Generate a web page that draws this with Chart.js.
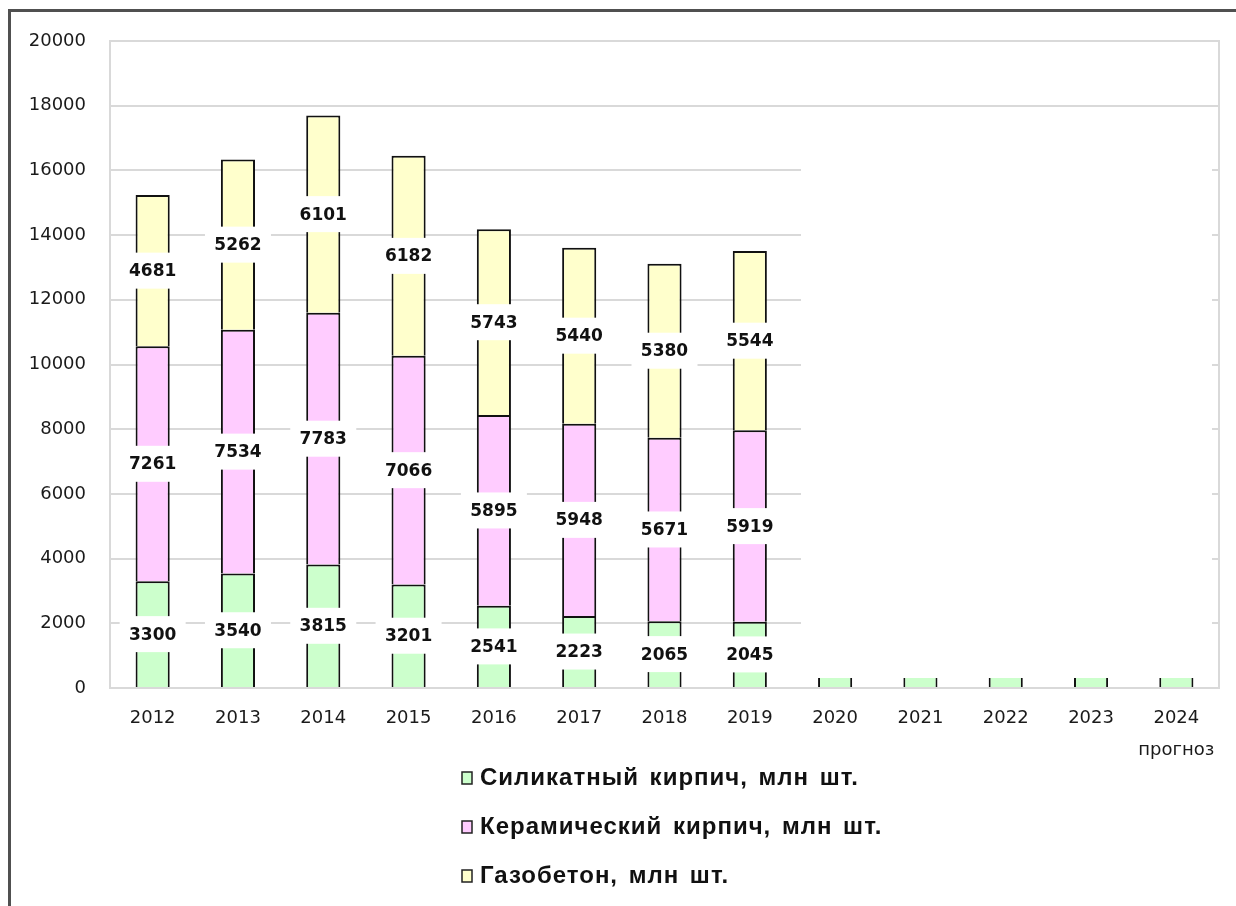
<!DOCTYPE html>
<html>
<head>
<meta charset="utf-8">
<script src="https://cdn.jsdelivr.net/npm/chart.js@4.4.0/dist/chart.umd.min.js"></script>
<style>
  html, body { margin: 0; padding: 0; background: #fff; }
  #wrap { position: relative; width: 1236px; height: 906px; overflow: hidden; }
  #frame { position: absolute; left: 8px; top: 9px; width: 1400px; height: 1100px; border: 3px solid #505050; }
  canvas { position: absolute; left: 0; top: 0; }
</style>
</head>
<body>
<div id="wrap">
  <div id="frame"></div>
  <canvas id="myChart" width="1236" height="906"></canvas>
</div>
<script>
const years = ['2012', '2013', '2014', '2015', '2016', '2017', '2018', '2019',
               '2020', '2021', '2022', '2023', ['2024', 'прогноз']];

// млн шт.
const silicate = [3300, 3540, 3815, 3201, 2541, 2223, 2065, 2045, 310, 310, 310, 310, 310];
const ceramic  = [7261, 7534, 7783, 7066, 5895, 5948, 5671, 5919, null, null, null, null, null];
const aerated  = [4681, 5262, 6101, 6182, 5743, 5440, 5380, 5544, null, null, null, null, null];

const seriesNames  = ['Силикатный кирпич, млн шт.', 'Керамический кирпич, млн шт.', 'Газобетон, млн шт.'];
const seriesColors = ['#ccffcc', '#ffccff', '#ffffcc'];

const forecastFrom = 8; // first forecast year index
const yMax = 20000;
const yStep = 2000;

const ctx = document.getElementById('myChart').getContext('2d');

// white labels in the middle of each segment
const valueLabels = {
  id: 'valueLabels',
  afterDatasetsDraw(chart) {
    const c = chart.ctx;
    c.save();
    c.font = 'bold 17px "DejaVu Sans"';
    c.textAlign = 'center';
    c.textBaseline = 'middle';
    chart.data.datasets.forEach((ds, i) => {
      chart.getDatasetMeta(i).data.forEach((bar, j) => {
        if (j >= forecastFrom || ds.data[j] == null) return;
        const p = bar.getCenterPoint();
        c.fillStyle = '#fff';
        c.fillRect(p.x - 33, p.y - 18, 66, 36);
        c.fillStyle = '#111';
        c.fillText(String(ds.data[j]), p.x, p.y + 1);
      });
    });
    c.restore();
  }
};

// plot frame + the blank area over the forecast years
const plotFrame = {
  id: 'plotFrame',
  beforeDatasetsDraw(chart) {
    const c = chart.ctx;
    const a = chart.chartArea;
    const x = chart.scales.x, y = chart.scales.y;
    const step = x.getPixelForValue(1) - x.getPixelForValue(0);
    c.save();
    c.fillStyle = '#fff';
    const left = x.getPixelForValue(7) + step * 0.6;
    c.fillRect(left, y.getPixelForValue(17000), a.right - 7 - left, y.getPixelForValue(1000) - y.getPixelForValue(17000));
    c.strokeStyle = '#d9d9d9';
    c.lineWidth = 2;
    c.strokeRect(a.left, a.top, a.right - a.left, a.bottom - a.top);
    c.restore();
  }
};

// legend as a centered column under the axis
const columnLegend = {
  id: 'columnLegend',
  afterDraw(chart) {
    const c = chart.ctx;
    const a = chart.chartArea;
    c.save();
    c.font = 'bold 24px "Liberation Sans", Arial, sans-serif';
    c.letterSpacing = '1px';
    c.wordSpacing = '3px';
    c.textBaseline = 'middle';
    chart.data.datasets.forEach((ds, i) => {
      const cy = a.bottom + 90 + i * 49;
      c.fillStyle = ds.backgroundColor;
      c.fillRect(462, cy - 6, 10, 12);
      c.strokeStyle = '#222';
      c.lineWidth = 1.5;
      c.strokeRect(462, cy - 6, 10, 12);
      c.fillStyle = '#111';
      c.fillText(ds.label, 480, cy);
    });
    c.restore();
  }
};

const edgeOnly = (context) => context.dataIndex >= forecastFrom
  ? { left: 2, right: 2, top: 0, bottom: 0 }
  : 2;

const data = {
  labels: years,
  datasets: [silicate, ceramic, aerated].map((values, i) => ({
    label: seriesNames[i],
    data: values,
    backgroundColor: seriesColors[i],
    borderColor: '#111',
    borderWidth: i === 0 ? edgeOnly : 2,
    barPercentage: 0.4,
    categoryPercentage: 1
  }))
};

const config = {
  type: 'bar',
  data,
  options: {
    responsive: false,
    animation: false,
    layout: { padding: { left: 28, top: 41, right: 17, bottom: 138 } },
    plugins: {
      legend: { display: false },
      tooltip: { enabled: false }
    },
    scales: {
      x: {
        stacked: true,
        grid: { display: false, drawTicks: false },
        border: { display: false },
        ticks: {
          color: '#1a1a1a',
          padding: 14,
          font: { family: 'DejaVu Sans', size: 18, lineHeight: 1.8 },
          maxRotation: 0,
          autoSkip: false
        },
        afterFit(scale) { scale.height = 80; }
      },
      y: {
        stacked: true,
        min: 0,
        max: yMax,
        grid: { color: '#d9d9d9', lineWidth: 2, drawTicks: false },
        border: { display: false },
        ticks: {
          stepSize: yStep,
          color: '#1a1a1a',
          padding: 24,
          font: { family: 'DejaVu Sans', size: 18 },
          callback: (value) => String(value)
        },
        afterFit(scale) { scale.width = 82; }
      }
    }
  },
  plugins: [plotFrame, valueLabels, columnLegend]
};

const myChart = new Chart(ctx, config);
</script>
</body>
</html>
